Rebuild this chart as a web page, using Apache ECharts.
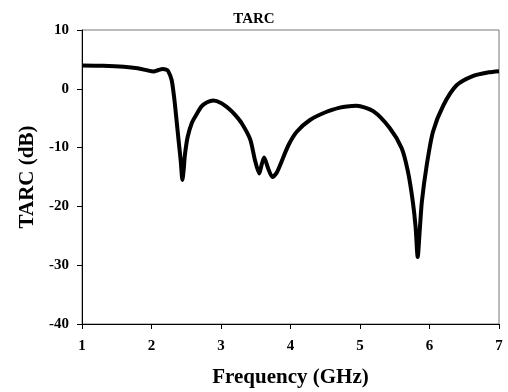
<!DOCTYPE html>
<html>
<head>
<meta charset="utf-8">
<script src="https://cdn.jsdelivr.net/npm/echarts@6/dist/echarts.min.js"></script>
<style>html,body{margin:0;padding:0;background:#fff}#c{width:508px;height:392px}</style>
</head>
<body>
<div id="c"></div>
<script>
const freqGHz = [1.0, 1.3, 1.6, 1.8, 1.95, 2.03, 2.1, 2.16, 2.21, 2.24, 2.29, 2.33, 2.36, 2.39, 2.42, 2.445, 2.465, 2.48, 2.52, 2.58, 2.65, 2.72, 2.80, 2.89, 3.0, 3.11, 3.20, 3.30, 3.42, 3.49, 3.55, 3.585, 3.62, 3.68, 3.74, 3.80, 3.85, 3.97, 4.09, 4.28, 4.52, 4.71, 4.81, 4.95, 5.19, 5.43, 5.60, 5.69, 5.76, 5.80, 5.83, 5.86, 5.89, 5.96, 6.05, 6.20, 6.39, 6.63, 6.85, 7.0];
const tarcDB = [3.95, 3.9, 3.75, 3.5, 3.1, 2.95, 3.2, 3.35, 3.25, 3.0, 1.5, -1.9, -5.3, -8.8, -12.2, -15.5, -13.5, -11.3, -8.2, -5.8, -4.3, -3.0, -2.3, -2.0, -2.4, -3.35, -4.4, -5.9, -8.6, -12.2, -14.4, -12.9, -11.7, -13.6, -15.0, -14.3, -13.0, -9.6, -7.3, -5.3, -3.9, -3.2, -3.0, -2.9, -3.8, -6.7, -10.1, -14.1, -19.2, -23.5, -28.6, -24.0, -19.2, -13.0, -7.3, -2.8, 0.6, 2.2, 2.8, 3.0];
const xTicks = [1, 2, 3, 4, 5, 6, 7];
const yTicks = [-40, -30, -20, -10, 0, 10];

const font = '"Liberation Serif", "Times New Roman", serif';
const chart = echarts.init(document.getElementById('c'), null, {renderer: 'canvas'});
chart.setOption({
  animation: false,
  backgroundColor: '#fff',
  title: {
    text: 'TARC', left: 'center', top: 7,
    textStyle: {fontFamily: font, fontWeight: 'bold', fontSize: 15, color: '#000'}
  },
  grid: {left: 82, right: 9, top: 30, bottom: 68, show: true, borderColor: '#777', borderWidth: 1, outerBoundsMode: 'none', containLabel: false},
  xAxis: {
    type: 'value', min: xTicks[0], max: xTicks[xTicks.length - 1], interval: 1,
    name: 'Frequency (GHz)', nameLocation: 'middle', nameGap: 43,
    nameTextStyle: {fontFamily: font, fontWeight: 'bold', fontSize: 21, color: '#000'},
    axisLine: {onZero: false, lineStyle: {color: '#000', width: 1}},
    axisTick: {show: true, length: 5, lineStyle: {color: '#000'}},
    axisLabel: {fontFamily: font, fontWeight: 'bold', fontSize: 15, color: '#000', margin: 15},
    splitLine: {show: false}
  },
  yAxis: {
    type: 'value', min: yTicks[0], max: yTicks[yTicks.length - 1], interval: 10,
    name: 'TARC (dB)', nameLocation: 'middle', nameGap: 44, nameRotate: 90,
    nameTextStyle: {fontFamily: font, fontWeight: 'bold', fontSize: 21, color: '#000'},
    axisLine: {show: true, onZero: false, lineStyle: {color: '#000', width: 1}},
    axisTick: {show: true, length: 5, lineStyle: {color: '#000'}},
    axisLabel: {fontFamily: font, fontWeight: 'bold', fontSize: 15, color: '#000', margin: 13},
    splitLine: {show: false}
  },
  series: [{
    type: 'line',
    data: freqGHz.map((f, i) => [f, tarcDB[i]]),
    showSymbol: false,
    smooth: 0.25,
    lineStyle: {color: '#000', width: 4}
  }]
});
</script>
</body>
</html>
